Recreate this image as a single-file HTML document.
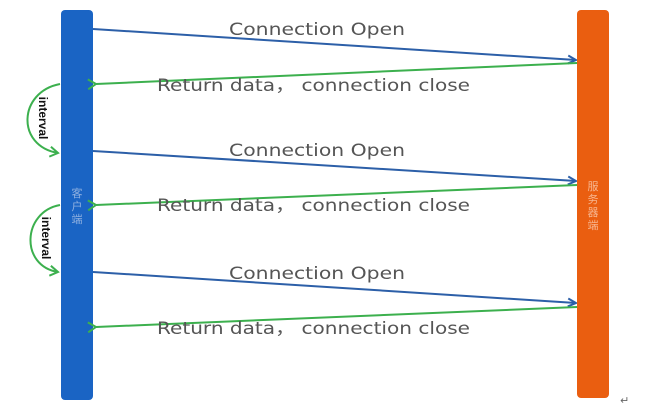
<!DOCTYPE html>
<html><head><meta charset="utf-8"><style>
html,body{margin:0;padding:0;background:#fff;}
body{width:664px;height:412px;overflow:hidden;position:relative;font-family:"DejaVu Sans","Noto Sans CJK SC",sans-serif;}
</style></head><body>
<svg width="664" height="412" viewBox="0 0 664 412" xmlns="http://www.w3.org/2000/svg">
<defs>
<marker id="ab" markerWidth="10" markerHeight="10" refX="9" refY="5" orient="auto" markerUnits="userSpaceOnUse"><path d="M1,1 L9,5 L1,9" fill="none" stroke="#2c5fa8" stroke-width="2"/></marker>
<marker id="ag" markerWidth="12" markerHeight="12" refX="2" refY="6" orient="auto" markerUnits="userSpaceOnUse"><path d="M10,1 L2,6 L10,11" fill="none" stroke="#3cb04e" stroke-width="2"/></marker>
<marker id="ag2" markerWidth="12" markerHeight="12" refX="10" refY="6" orient="auto" markerUnits="userSpaceOnUse"><path d="M2,1 L10,6 L2,11" fill="none" stroke="#3cb04e" stroke-width="2"/></marker>
</defs>
<rect x="61" y="10" width="32" height="390" rx="4" fill="#1a64c4"/>
<rect x="577" y="10" width="32" height="388" rx="4" fill="#ea5e10"/>
<g font-size="11" fill="#8fb0e0" text-anchor="middle"><text x="77" y="197">客</text><text x="77" y="210">户</text><text x="77" y="223">端</text></g>
<g font-size="11" fill="#f7b690" text-anchor="middle"><text x="593" y="190">服</text><text x="593" y="203">务</text><text x="593" y="216">器</text><text x="593" y="229">端</text></g>
<g stroke-width="2" fill="none">
<line x1="93" y1="29" x2="576" y2="60" stroke="#2c5fa8" marker-end="url(#ab)"/>
<line x1="577" y1="63" x2="96" y2="84" stroke="#3cb04e" marker-end="url(#ag)"/>
<line x1="93" y1="151" x2="576" y2="181" stroke="#2c5fa8" marker-end="url(#ab)"/>
<line x1="577" y1="185" x2="96" y2="205" stroke="#3cb04e" marker-end="url(#ag)"/>
<line x1="93" y1="272" x2="576" y2="303" stroke="#2c5fa8" marker-end="url(#ab)"/>
<line x1="577" y1="307" x2="96" y2="327" stroke="#3cb04e" marker-end="url(#ag)"/>
<path d="M60,84 C18,92 16,146 58,153" stroke="#3cb04e" marker-end="url(#ag2)"/>
<path d="M60,205 C22,212 20,266 58,272" stroke="#3cb04e" marker-end="url(#ag2)"/>
</g>
<g font-size="17" fill="#555">
<text x="229" y="35" textLength="176" lengthAdjust="spacingAndGlyphs">Connection Open</text>
<text x="157" y="91" textLength="313" lengthAdjust="spacingAndGlyphs">Return data， connection close</text>
<text x="229" y="156" textLength="176" lengthAdjust="spacingAndGlyphs">Connection Open</text>
<text x="157" y="211" textLength="313" lengthAdjust="spacingAndGlyphs">Return data， connection close</text>
<text x="229" y="279" textLength="176" lengthAdjust="spacingAndGlyphs">Connection Open</text>
<text x="157" y="334" textLength="313" lengthAdjust="spacingAndGlyphs">Return data， connection close</text>
</g>
<g font-size="12" font-weight="bold" fill="#111" text-anchor="middle" font-family="Liberation Sans, sans-serif">
<text transform="translate(39,118) rotate(90)">interval</text>
<text transform="translate(42,238) rotate(90)">interval</text>
</g>
<text x="620" y="404" font-size="11" fill="#666">↵</text>
</svg>
</body></html>
